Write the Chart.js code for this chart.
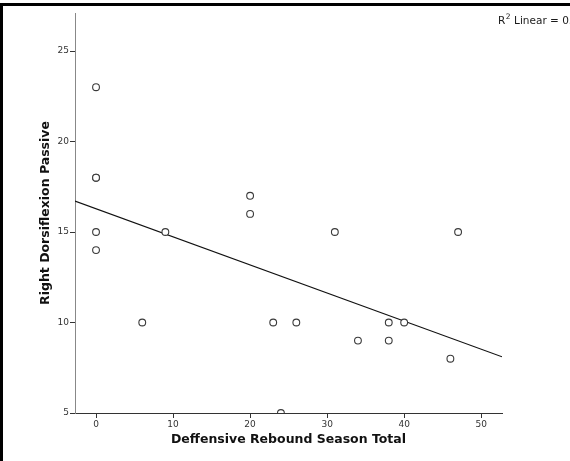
<!DOCTYPE html>
<html>
<head>
<meta charset="utf-8">
<script src="https://cdn.jsdelivr.net/npm/chart.js@4/dist/chart.umd.min.js"></script>
<style>
  html, body { margin: 0; padding: 0; background: #fff; }
  #wrap { position: relative; width: 570px; height: 461px; }
</style>
</head>
<body>
<div id="wrap"><canvas id="c" width="570" height="461"></canvas></div>
<script>
// Defensive rebounds (season total) vs. right passive dorsiflexion
const reboundTotals = [0, 0, 0, 0, 0, 6, 9, 20, 20, 23, 24, 26, 31, 34, 38, 38, 40, 46, 47];
const dorsiflexion  = [23, 18, 18, 15, 14, 10, 15, 17, 16, 10, 5, 10, 15, 9, 10, 9, 10, 8, 15];
const xTickValues = [0, 10, 20, 30, 40, 50];
const yTickValues = [5, 10, 15, 20, 25];
const xTitle = 'Deffensive Rebound Season Total';
const yTitle = 'Right Dorsiflexion Passive';

const X_MIN = -2.73, X_MAX = 52.7, Y_MIN = 5, Y_MAX = 27.1;

// least-squares fit of the scatter
const n = reboundTotals.length;
const mx = reboundTotals.reduce((a, b) => a + b, 0) / n;
const my = dorsiflexion.reduce((a, b) => a + b, 0) / n;
let sxy = 0, sxx = 0, syy = 0;
for (let i = 0; i < n; i++) {
  const dx = reboundTotals[i] - mx, dy = dorsiflexion[i] - my;
  sxy += dx * dy; sxx += dx * dx; syy += dy * dy;
}
const slope = sxy / sxx;
const intercept = my - slope * mx;
const r2 = (sxy * sxy) / (sxx * syy);
const fitLine = [X_MIN, X_MAX].map(x => ({ x, y: intercept + slope * x }));

const points = reboundTotals.map((x, i) => ({ x, y: dorsiflexion[i] }));

const fontFamily = "'DejaVu Sans', 'Liberation Sans', sans-serif";

// frame rules and the R² note in the corner
const decorations = {
  id: 'decorations',
  afterDraw(chart) {
    const ctx = chart.ctx;
    ctx.save();
    ctx.fillStyle = '#000';
    ctx.fillRect(0, 3, 570, 3);
    ctx.fillRect(0, 3, 3, 458);
    ctx.fillStyle = '#1a1a1a';
    ctx.textBaseline = 'alphabetic';
    ctx.font = '10.5px ' + fontFamily;
    let x = 498, y = 24;
    ctx.fillText('R', x, y);
    x += ctx.measureText('R').width;
    ctx.font = '7.5px ' + fontFamily;
    ctx.fillText('2', x + 0.5, y - 5);
    x += ctx.measureText('2').width + 4;
    ctx.font = '10.5px ' + fontFamily;
    ctx.fillText('Linear = ' + r2.toFixed(3), x, y);
    ctx.restore();
  }
};

new Chart(document.getElementById('c'), {
  type: 'scatter',
  data: {
    datasets: [
      {
        data: points,
        pointStyle: 'circle',
        pointRadius: 3.4,
        pointBorderWidth: 1.1,
        pointBorderColor: '#3a3a3a',
        pointBackgroundColor: '#fff',
        order: 1
      },
      {
        type: 'line',
        data: fitLine,
        borderColor: '#111',
        borderWidth: 1.2,
        pointRadius: 0,
        fill: false,
        order: 2
      }
    ]
  },
  options: {
    responsive: false,
    animation: false,
    layout: { padding: { left: 0, top: 13, right: 68, bottom: 0 } },
    plugins: { legend: { display: false }, tooltip: { enabled: false } },
    scales: {
      x: {
        type: 'linear',
        min: X_MIN, max: X_MAX,
        afterBuildTicks: s => { s.ticks = xTickValues.map(v => ({ value: v })); },
        afterFit: s => { s.height = 48; },
        border: { display: true, color: '#333', width: 1 },
        grid: { drawOnChartArea: false, drawTicks: true, tickLength: 5, color: '#333' },
        ticks: { color: '#333', font: { family: fontFamily, size: 9 }, padding: 1, maxRotation: 0 },
        title: { display: true, text: xTitle, color: '#111', font: { family: fontFamily, size: 12.5, weight: 'bold' }, padding: { top: 0, bottom: 14 } }
      },
      y: {
        type: 'linear',
        min: Y_MIN, max: Y_MAX,
        afterBuildTicks: s => { s.ticks = yTickValues.map(v => ({ value: v })); },
        afterFit: s => { s.width = 75; },
        border: { display: true, color: '#888', width: 1 },
        grid: { drawOnChartArea: false, drawTicks: true, tickLength: 5, color: '#333' },
        ticks: { color: '#333', font: { family: fontFamily, size: 9 }, padding: 1 },
        title: { display: true, text: yTitle, color: '#111', font: { family: fontFamily, size: 12.5, weight: 'bold' }, padding: { top: 38, bottom: 0 } }
      }
    }
  },
  plugins: [decorations]
});
</script>
</body>
</html>
